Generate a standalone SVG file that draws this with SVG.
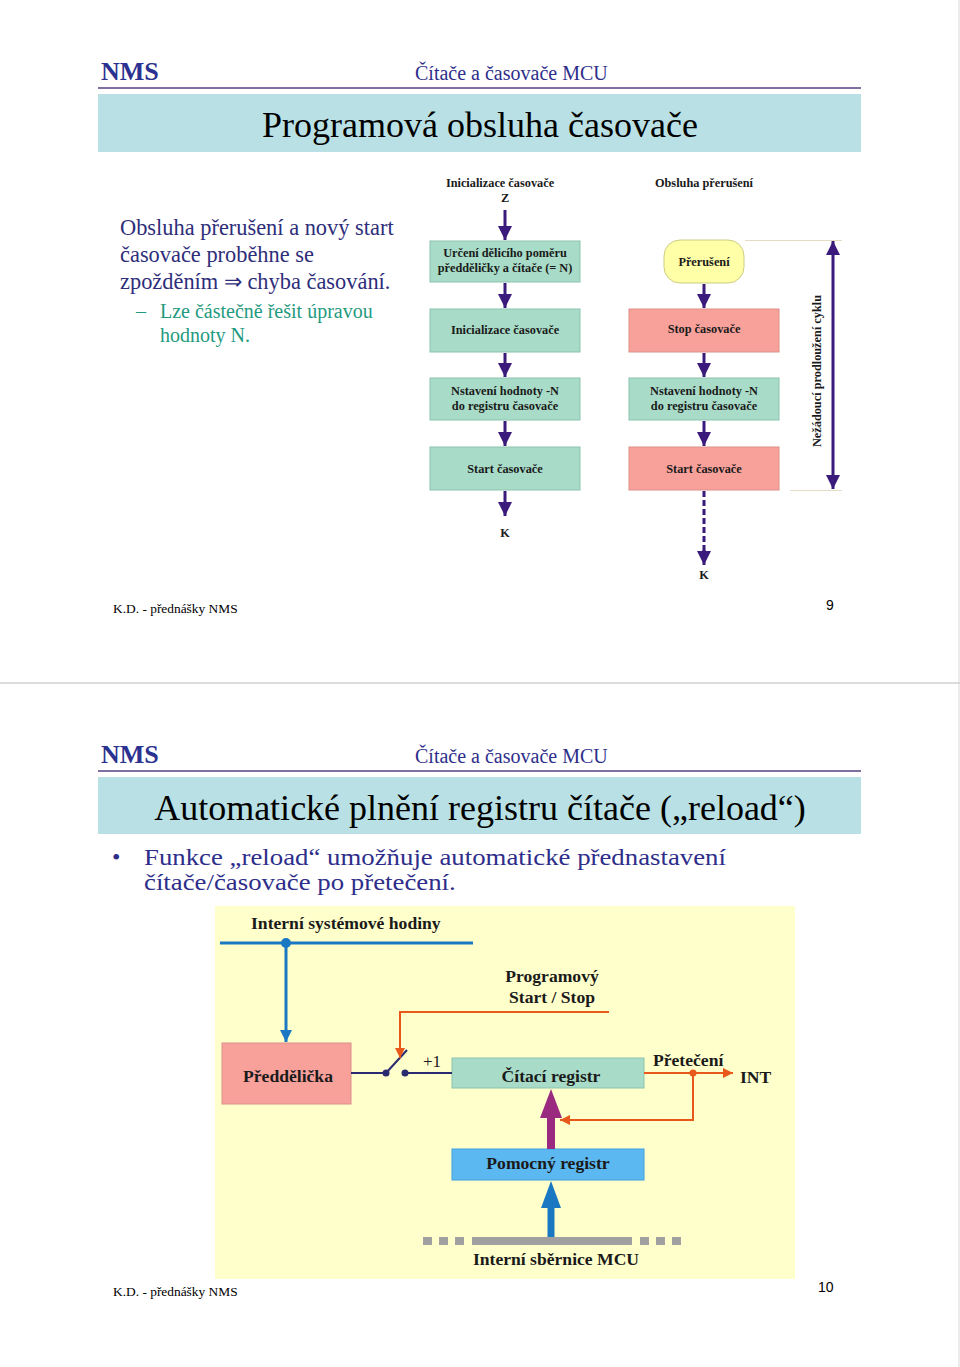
<svg xmlns="http://www.w3.org/2000/svg" width="960" height="1367" viewBox="0 0 960 1367">
<defs>
<style>
.ser{font-family:"Liberation Serif","Times New Roman",serif}
.sans{font-family:"Liberation Sans",Arial,sans-serif}
.nms{font-family:"Liberation Serif",serif;font-weight:bold;font-size:26px;fill:#2b3190}
.hdr{font-family:"Liberation Serif",serif;font-size:20px;fill:#2e2e8a}
.title{font-family:"Liberation Serif",serif;font-size:36px;fill:#000;text-anchor:middle}
.fc{font-family:"Liberation Serif",serif;font-weight:bold;font-size:12.3px;fill:#1a1a1a;text-anchor:middle}
.bt{font-family:"Liberation Serif",serif;font-weight:bold;font-size:17.6px;fill:#1a1a1a}
.mint{fill:#a8dcc8;stroke:#8cc4ae;stroke-width:1}
.salmon{fill:#f8a19b;stroke:#dc8f8a;stroke-width:1}
.flow{stroke:#3a1a7a;stroke-width:3;fill:none}
.foot{font-family:"Liberation Serif",serif;font-size:13.4px;fill:#000}
</style>
<marker id="ah" viewBox="0 0 10 10" refX="10" refY="5" markerWidth="4.8" markerHeight="4.8" markerUnits="strokeWidth" orient="auto">
<path d="M0,0 L10,5 L0,10 z" fill="#3a1a7a"/>
</marker>
<marker id="ahs" viewBox="0 0 10 10" refX="0" refY="5" markerWidth="4.8" markerHeight="4.8" markerUnits="strokeWidth" orient="auto">
<path d="M10,0 L0,5 L10,10 z" fill="#3a1a7a"/>
</marker>
<marker id="ahb" viewBox="0 0 10 10" refX="10" refY="5" markerWidth="4.5" markerHeight="4" markerUnits="strokeWidth" orient="auto">
<path d="M0,0 L10,5 L0,10 z" fill="#1a78c2"/>
</marker>
<marker id="aho" viewBox="0 0 10 10" refX="10" refY="5" markerWidth="5" markerHeight="5" markerUnits="strokeWidth" orient="auto">
<path d="M0,0 L10,5 L0,10 z" fill="#e8581a"/>
</marker>
</defs>
<rect x="0" y="0" width="960" height="1367" fill="#ffffff"/>
<line x1="959" y1="0" x2="959" y2="1367" stroke="#d8d8d8" stroke-width="1"/>
<line x1="0" y1="683" x2="960" y2="683" stroke="#d0d0d0" stroke-width="1.5"/>

<!-- Slide 1 -->
<g id="slide1-header">
<text class="nms" x="101" y="80">NMS</text>
<text class="hdr" x="415" y="80">Čítače a časovače MCU</text>
<line x1="98" y1="88" x2="861" y2="88" stroke="#8070a0" stroke-width="2"/>
<rect x="98" y="94" width="763" height="58" fill="#b9e0e4"/>
<text class="title" x="480" y="137">Programová obsluha časovače</text>
</g>
<g id="slide1-text">
<text class="ser" font-size="22.4" fill="#2e2e7a" x="120" y="235">Obsluha přerušení a nový start</text>
<text class="ser" font-size="22.4" fill="#2e2e7a" x="120" y="262">časovače proběhne se</text>
<text class="ser" font-size="22.4" fill="#2e2e7a" x="120" y="289">zpožděním ⇒ chyba časování.</text>
<text class="ser" font-size="20" fill="#1f9a80" x="136" y="318">–</text>
<text class="ser" font-size="20" fill="#1f9a80" x="160" y="318">Lze částečně řešit úpravou</text>
<text class="ser" font-size="20" fill="#1f9a80" x="160" y="342">hodnoty N.</text>
</g>

<g id="flow-left-title">
<text class="fc" x="500" y="187">Inicializace časovače</text>
<text class="fc" x="505" y="202">Z</text>
</g>
<g id="fl-box1"><rect class="mint" x="430" y="241" width="150" height="41"/>
<text class="fc" x="505" y="257">Určení dělicího poměru</text>
<text class="fc" x="505" y="272">předděličky a čítače (= N)</text></g>
<g id="fl-box2"><rect class="mint" x="430" y="309" width="150" height="43"/>
<text class="fc" x="505" y="334">Inicializace časovače</text></g>
<g id="fl-box3"><rect class="mint" x="430" y="378" width="150" height="42"/>
<text class="fc" x="505" y="395">Nstavení hodnoty -N</text>
<text class="fc" x="505" y="410">do registru časovače</text></g>
<g id="fl-box4"><rect class="mint" x="430" y="447" width="150" height="43"/>
<text class="fc" x="505" y="473">Start časovače</text></g>
<g id="fl-end"><text class="fc" x="505" y="537">K</text></g>

<g id="flow-right-title"><text class="fc" x="704" y="187">Obsluha přerušení</text></g>
<g id="fr-int"><rect x="664" y="240" width="80" height="43" rx="16" fill="#ffffa8" stroke="#cccc80" stroke-width="1"/>
<text class="fc" x="704" y="266">Přerušení</text></g>
<g id="fr-box1"><rect class="salmon" x="629" y="309" width="150" height="43"/>
<text class="fc" x="704" y="333">Stop časovače</text></g>
<g id="fr-box2"><rect class="mint" x="629" y="378" width="150" height="42"/>
<text class="fc" x="704" y="395">Nstavení hodnoty -N</text>
<text class="fc" x="704" y="410">do registru časovače</text></g>
<g id="fr-box3"><rect class="salmon" x="629" y="447" width="150" height="43"/>
<text class="fc" x="704" y="473">Start časovače</text></g>
<g id="fr-end"><text class="fc" x="704" y="579">K</text></g>
<g id="delay-label">
<text class="fc" font-size="13.5" transform="translate(821,371) rotate(-90)">Nežádoucí prodloužení cyklu</text>
</g>

<g id="connectors-slide1">
<line class="flow" x1="505" y1="210" x2="505" y2="240" marker-end="url(#ah)"/>
<line class="flow" x1="505" y1="283" x2="505" y2="308" marker-end="url(#ah)"/>
<line class="flow" x1="505" y1="353" x2="505" y2="377" marker-end="url(#ah)"/>
<line class="flow" x1="505" y1="421" x2="505" y2="446" marker-end="url(#ah)"/>
<line class="flow" x1="505" y1="491" x2="505" y2="516" marker-end="url(#ah)"/>
<line class="flow" x1="704" y1="284" x2="704" y2="308" marker-end="url(#ah)"/>
<line class="flow" x1="704" y1="353" x2="704" y2="377" marker-end="url(#ah)"/>
<line class="flow" x1="704" y1="421" x2="704" y2="446" marker-end="url(#ah)"/>
<line class="flow" x1="704" y1="491" x2="704" y2="552" stroke-dasharray="6,3"/>
<line class="flow" x1="704" y1="550" x2="704" y2="565" marker-end="url(#ah)"/>
<line x1="745" y1="240.5" x2="842" y2="240.5" stroke="#e4dcc4" stroke-width="1"/>
<line x1="790" y1="490.5" x2="842" y2="490.5" stroke="#e4dcc4" stroke-width="1"/>
<line class="flow" x1="833" y1="241" x2="833" y2="489" marker-start="url(#ahs)" marker-end="url(#ah)"/>
</g>

<g id="slide1-footer">
<text class="foot" x="113" y="613">K.D. - přednášky NMS</text>
<text class="sans" font-size="14" x="826" y="610">9</text>
</g>

<!-- Slide 2 -->
<g id="slide2-header">
<text class="nms" x="101" y="763">NMS</text>
<text class="hdr" x="415" y="763">Čítače a časovače MCU</text>
<line x1="98" y1="771" x2="861" y2="771" stroke="#8070a0" stroke-width="2"/>
<rect x="98" y="777" width="763" height="57" fill="#b9e0e4"/>
<text class="title" x="480" y="820">Automatické plnění registru čítače („reload“)</text>
</g>
<g id="slide2-bullet">
<text class="ser" font-size="24" fill="#2e2e8a" x="112" y="865">•</text>
<g transform="translate(144,0) scale(1.117,1)">
<text class="ser" font-size="24" fill="#2e2e8a" x="0" y="865">Funkce „reload“ umožňuje automatické přednastavení</text>
<text class="ser" font-size="24" fill="#2e2e8a" x="0" y="890">čítače/časovače po přetečení.</text>
</g>
</g>

<rect id="panel" x="215" y="906" width="580" height="373" fill="#ffffcc"/>

<g id="clock-label"><text class="bt" x="251" y="929">Interní systémové hodiny</text></g>
<g id="prog-label">
<text class="bt" text-anchor="middle" x="552" y="982">Programový</text>
<text class="bt" text-anchor="middle" x="552" y="1003">Start / Stop</text>
</g>
<g id="prescaler"><rect class="salmon" x="222" y="1043" width="129" height="61"/>
<text class="bt" font-size="18.5" text-anchor="middle" x="288" y="1082">Předdělička</text></g>
<g id="switch">
<line x1="386" y1="1073" x2="407" y2="1050" stroke="#2a2a70" stroke-width="2"/>
<circle cx="386" cy="1073" r="3.5" fill="#2a2a70"/>
<circle cx="405" cy="1073" r="3.5" fill="#2a2a70"/>
<text class="ser" font-size="17" fill="#1a1a1a" x="423" y="1067">+1</text>
</g>
<g id="counter"><rect class="mint" x="452" y="1058" width="192" height="30"/>
<text class="bt" font-size="18.7" text-anchor="middle" x="551" y="1082">Čítací registr</text></g>
<g id="overflow-label"><text class="bt" x="653" y="1066">Přetečení</text></g>
<g id="int-label"><text class="bt" font-size="18" x="740" y="1083">INT</text></g>
<g id="aux"><rect x="452" y="1149" width="192" height="31" fill="#5cb8f0" stroke="#40a0e0" stroke-width="1"/>
<text class="bt" font-size="17.8" text-anchor="middle" x="548" y="1169">Pomocný registr</text></g>
<g id="bus">
<g fill="#a0a0a0">
<rect x="423" y="1237" width="9" height="8"/>
<rect x="439" y="1237" width="9" height="8"/>
<rect x="455" y="1237" width="9" height="8"/>
<rect x="472" y="1237" width="160" height="8"/>
<rect x="640" y="1237" width="9" height="8"/>
<rect x="656" y="1237" width="9" height="8"/>
<rect x="672" y="1237" width="9" height="8"/>
</g>
<text class="bt" text-anchor="middle" x="556" y="1265">Interní sběrnice MCU</text>
</g>

<g id="connectors-slide2">
<line x1="220" y1="943" x2="473" y2="943" stroke="#1a78c2" stroke-width="3"/>
<circle cx="286" cy="943" r="5" fill="#1a78c2"/>
<line x1="286" y1="943" x2="286" y2="1042" stroke="#1a78c2" stroke-width="3" marker-end="url(#ahb)"/>
<polyline points="609,1012 400,1012 400,1058" fill="none" stroke="#e8581a" stroke-width="2" marker-end="url(#aho)"/>
<line x1="351" y1="1073" x2="386" y2="1073" stroke="#2a2a70" stroke-width="2"/>
<line x1="405" y1="1073" x2="452" y2="1073" stroke="#2a2a70" stroke-width="2"/>
<line x1="644" y1="1073" x2="733" y2="1073" stroke="#e8581a" stroke-width="2" marker-end="url(#aho)"/>
<circle cx="693" cy="1073" r="3.5" fill="#e8581a"/>
<polyline points="693,1073 693,1120 560,1120" fill="none" stroke="#e8581a" stroke-width="2" marker-end="url(#aho)"/>
<line x1="551" y1="1149" x2="551" y2="1116" stroke="#9a2a80" stroke-width="8"/>
<polygon points="551,1089 540,1118 562,1118" fill="#9a2a80"/>
<line x1="551" y1="1237" x2="551" y2="1206" stroke="#1a78c2" stroke-width="7"/>
<polygon points="551,1181 541,1208 561,1208" fill="#1a78c2"/>
</g>

<g id="slide2-footer">
<text class="foot" x="113" y="1296">K.D. - přednášky NMS</text>
<text class="sans" font-size="14" x="818" y="1292">10</text>
</g>
</svg>
